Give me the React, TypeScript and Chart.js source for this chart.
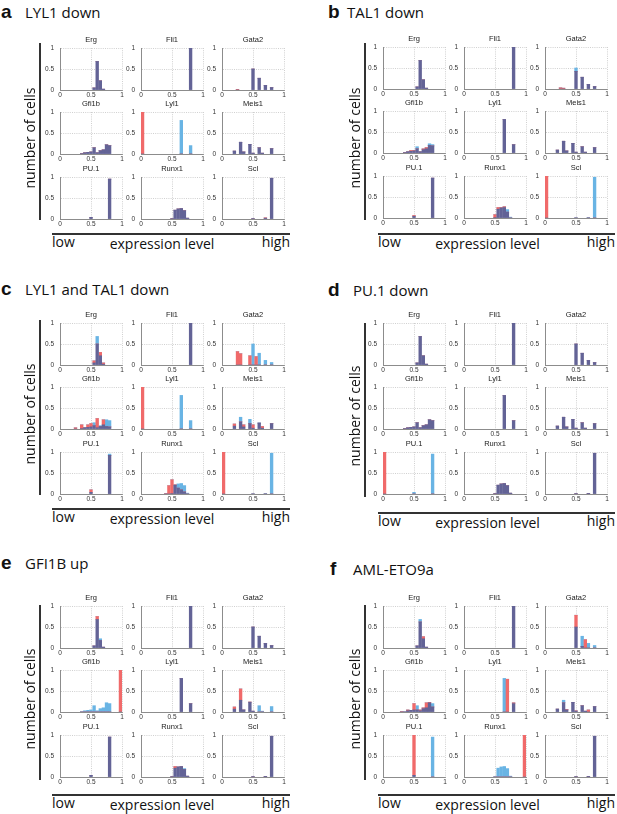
import React, { useEffect, useRef } from 'react';
import { Chart, registerables } from 'chart.js';

Chart.register(...registerables);

type Bins = [number, number][]; // [expression level, fraction of cells]

const GENES = ['Erg', 'Fli1', 'Gata2', 'Gfi1b', 'Lyl1', 'Meis1', 'PU.1', 'Runx1', 'Scl'];
const X_TICK_STEP = 0.5;
const Y_TICK_STEP = 0.5;

// ---- control distributions (blue) ----
const ctrlErg: Bins = [[0.55, 0.05], [0.6, 0.68], [0.65, 0.22], [0.7, 0.02]];
const ctrlFli1: Bins = [[0.8, 1.0]];
const ctrlGata2: Bins = [[0.5, 0.5], [0.6, 0.28], [0.7, 0.11], [0.8, 0.06]];
const ctrlGfi1b: Bins = [[0.35, 0.01], [0.4, 0.03], [0.45, 0.04], [0.5, 0.05], [0.55, 0.15], [0.6, 0.03], [0.65, 0.08], [0.7, 0.1], [0.75, 0.22], [0.8, 0.2]];
const ctrlLyl1: Bins = [[0.65, 0.8], [0.8, 0.2]];
const ctrlMeis1: Bins = [[0.2, 0.07], [0.3, 0.28], [0.35, 0.05], [0.45, 0.23], [0.5, 0.02], [0.6, 0.15], [0.65, 0.02], [0.8, 0.13]];
const ctrlPU1: Bins = [[0.5, 0.04], [0.8, 0.95]];
const ctrlRunx1: Bins = [[0.5, 0.01], [0.55, 0.21], [0.6, 0.24], [0.65, 0.25], [0.7, 0.2], [0.75, 0.02]];
const ctrlScl: Bins = [[0.5, 0.005], [0.7, 0.015], [0.8, 0.97]];

// ---- a: LYL1 down (red) ----
const aGata2: Bins = [[0.25, 0.015], [0.5, 0.5], [0.6, 0.28], [0.7, 0.11], [0.8, 0.06]];
const aLyl1: Bins = [[0.025, 1.0]];
const aScl: Bins = [[0.5, 0.005], [0.7, 0.03], [0.8, 0.97]];

// ---- b: TAL1 down ----
const bGata2: Bins = [[0.25, 0.03], [0.3, 0.02], [0.5, 0.42], [0.6, 0.28], [0.7, 0.11], [0.8, 0.06]];
const bGfi1b: Bins = [[0.35, 0.01], [0.4, 0.03], [0.45, 0.06], [0.5, 0.06], [0.55, 0.1], [0.6, 0.03], [0.65, 0.1], [0.7, 0.13], [0.75, 0.18], [0.8, 0.17]];
const bPU1: Bins = [[0.5, 0.06], [0.8, 0.95]];
const bRunx1: Bins = [[0.5, 0.08], [0.55, 0.25], [0.6, 0.25], [0.65, 0.27], [0.7, 0.14]];
const bScl: Bins = [[0.025, 1.0]];

// ---- c: LYL1 and TAL1 down ----
const cErg: Bins = [[0.55, 0.1], [0.6, 0.5], [0.65, 0.3], [0.7, 0.05]];
const cGata2: Bins = [[0.25, 0.32], [0.3, 0.27], [0.45, 0.22], [0.55, 0.2]];
const cGfi1b: Bins = [[0.25, 0.03], [0.35, 0.1], [0.4, 0.03], [0.45, 0.1], [0.5, 0.13], [0.55, 0.08], [0.6, 0.25], [0.65, 0.06], [0.7, 0.22], [0.75, 0.06], [0.8, 0.05]];
const cLyl1: Bins = [[0.025, 1.0]];
const cMeis1: Bins = [[0.2, 0.12], [0.3, 0.17], [0.35, 0.1], [0.45, 0.13], [0.5, 0.1], [0.6, 0.14], [0.65, 0.06], [0.8, 0.13]];
const cPU1: Bins = [[0.5, 0.1], [0.8, 0.92]];
const cRunx1: Bins = [[0.4, 0.01], [0.45, 0.2], [0.5, 0.34], [0.55, 0.22], [0.6, 0.14], [0.65, 0.1], [0.7, 0.05]];
const cScl: Bins = [[0.025, 1.0]];

// ---- d: PU.1 down ----
const dPU1: Bins = [[0.025, 1.0]];

// ---- e: GFI1B up ----
const eErg: Bins = [[0.55, 0.05], [0.6, 0.75], [0.65, 0.18], [0.7, 0.02]];
const eGfi1b: Bins = [[0.975, 1.0]];
const eMeis1: Bins = [[0.2, 0.12], [0.3, 0.55], [0.35, 0.05], [0.45, 0.24], [0.5, 0.02]];
const eRunx1: Bins = [[0.5, 0.01], [0.55, 0.25], [0.6, 0.24], [0.65, 0.25], [0.7, 0.18], [0.75, 0.02]];

// ---- f: AML-ETO9a ----
const fErg: Bins = [[0.55, 0.05], [0.6, 0.62], [0.65, 0.27], [0.7, 0.02]];
const fGata2: Bins = [[0.5, 0.78], [0.6, 0.04], [0.65, 0.2]];
const fGfi1b: Bins = [[0.3, 0.01], [0.4, 0.05], [0.45, 0.04], [0.5, 0.2], [0.55, 0.05], [0.6, 0.05], [0.65, 0.1], [0.7, 0.22], [0.75, 0.23], [0.8, 0.12]];
const fLyl1: Bins = [[0.7, 0.78], [0.8, 0.22]];
const fMeis1: Bins = [[0.2, 0.07], [0.3, 0.22], [0.35, 0.06], [0.45, 0.23], [0.5, 0.03], [0.6, 0.15], [0.65, 0.02], [0.7, 0.05], [0.8, 0.13]];
const fPU1: Bins = [[0.5, 1.0]];
const fRunx1: Bins = [[0.975, 1.0]];

const CONTROL: Record<string, Bins> = {
  Erg: ctrlErg, Fli1: ctrlFli1, Gata2: ctrlGata2, Gfi1b: ctrlGfi1b, Lyl1: ctrlLyl1,
  Meis1: ctrlMeis1, 'PU.1': ctrlPU1, Runx1: ctrlRunx1, Scl: ctrlScl,
};

const PANELS: { letter: string; title: string; pert: Record<string, Bins> }[] = [
  { letter: 'a', title: 'LYL1 down', pert: { Gata2: aGata2, Lyl1: aLyl1, Scl: aScl } },
  { letter: 'b', title: 'TAL1 down', pert: { Gata2: bGata2, Gfi1b: bGfi1b, 'PU.1': bPU1, Runx1: bRunx1, Scl: bScl } },
  { letter: 'c', title: 'LYL1 and TAL1 down', pert: { Erg: cErg, Gata2: cGata2, Gfi1b: cGfi1b, Lyl1: cLyl1, Meis1: cMeis1, 'PU.1': cPU1, Runx1: cRunx1, Scl: cScl } },
  { letter: 'd', title: 'PU.1 down', pert: { 'PU.1': dPU1 } },
  { letter: 'e', title: 'GFI1B up', pert: { Erg: eErg, Gfi1b: eGfi1b, Meis1: eMeis1, Runx1: eRunx1 } },
  { letter: 'f', title: 'AML-ETO9a', pert: { Erg: fErg, Gata2: fGata2, Gfi1b: fGfi1b, Lyl1: fLyl1, Meis1: fMeis1, 'PU.1': fPU1, Runx1: fRunx1 } },
];

// ---- layout (pixels) ----
const LAYOUT: Record<string, any> = {
  a: { letterX: 1, titleX: 25, titleBase: 18, gridLeft: 60, gridTop: 48, vX: 40, vTop: 43, vBot: 220, hY: 234, hX1: 52, hX2: 290 },
  b: { letterX: 328, titleX: 347, titleBase: 18, gridLeft: 383, gridTop: 47, vX: 365, vTop: 43, vBot: 220, hY: 234, hX1: 378, hX2: 615 },
  c: { letterX: 1, titleX: 25, titleBase: 295, gridLeft: 60, gridTop: 323, vX: 40, vTop: 320, vBot: 495, hY: 509, hX1: 52, hX2: 290 },
  d: { letterX: 328, titleX: 353, titleBase: 296, gridLeft: 383, gridTop: 323, vX: 365, vTop: 323, vBot: 497, hY: 513, hX1: 378, hX2: 615 },
  e: { letterX: 1, titleX: 25, titleBase: 569, gridLeft: 60, gridTop: 606, vX: 40, vTop: 605, vBot: 780, hY: 795, hX1: 52, hX2: 290 },
  f: { letterX: 330, titleX: 353, titleBase: 575, gridLeft: 383, gridTop: 606, vX: 365, vTop: 605, vBot: 780, hY: 795, hX1: 378, hX2: 615 },
};
const COL_STEP = 81;
const ROW_OFFSETS = [0, 64, 129];
const Y_AXIS_W = 20;
const PLOT_W = 62;
const PAD_R = 6;
const PAD_T = 14;
const PLOT_H = 42;
const X_AXIS_H = 10;
const CW = Y_AXIS_W + PLOT_W + PAD_R;
const CH = PAD_T + PLOT_H + X_AXIS_H;

const PURPLE = '#636396';
const RED = '#f06a6a';
const BLUE = '#69b4e4';
const GRID = '#c4c4c4';
const AXIS = '#8c8c8c';
const TICK_FONT = { family: '"Liberation Sans", Arial, sans-serif', size: 6.5 };
const tickLabel = (v: any) => String(Math.round(Number(v) * 10) / 10);

function splitBins(ctrl: Bins, pert: Bins) {
  const xs = Array.from(new Set([...ctrl.map((b) => b[0]), ...pert.map((b) => b[0])])).sort((p, q) => p - q);
  const get = (bins: Bins, x: number) => {
    const f = bins.find((b) => b[0] === x);
    return f ? f[1] : 0;
  };
  const purple: { x: number; y: number }[] = [];
  const red: { x: number; y: number }[] = [];
  const blue: { x: number; y: number }[] = [];
  xs.forEach((x) => {
    const c = get(ctrl, x);
    const p = get(pert, x);
    const m = Math.min(c, p);
    purple.push({ x, y: m });
    red.push({ x, y: p - m });
    blue.push({ x, y: c - m });
  });
  return { purple, red, blue };
}

function Subplot({ left, top, gene, ctrl, pert }: { left: number; top: number; gene: string; ctrl: Bins; pert: Bins }) {
  const ref = useRef<HTMLCanvasElement>(null);
  useEffect(() => {
    const { purple, red, blue } = splitBins(ctrl, pert);
    const titlePlugin = {
      id: 'geneTitle',
      afterDraw(chart: any) {
        const { ctx, chartArea } = chart;
        ctx.save();
        ctx.font = '7.5px "Liberation Sans", Arial, sans-serif';
        ctx.fillStyle = '#222';
        ctx.textAlign = 'center';
        ctx.textBaseline = 'middle';
        ctx.fillText(gene, (chartArea.left + chartArea.right) / 2, chartArea.top - 8.3);
        ctx.restore();
      },
    };
    const chart = new Chart(ref.current as HTMLCanvasElement, {
      type: 'bar',
      data: {
        datasets: [
          { data: purple, backgroundColor: PURPLE },
          { data: red, backgroundColor: RED },
          { data: blue, backgroundColor: BLUE },
        ] as any,
      },
      options: {
        animation: false,
        responsive: false,
        maintainAspectRatio: false,
        events: [],
        layout: { padding: { left: 0, right: PAD_R, top: PAD_T, bottom: 0 } },
        datasets: { bar: { barThickness: 2.7, grouped: false, borderWidth: 0 } } as any,
        plugins: { legend: { display: false }, tooltip: { enabled: false }, title: { display: false } },
        scales: {
          x: {
            type: 'linear',
            position: 'bottom',
            min: 0,
            max: 1,
            offset: false,
            stacked: true,
            grid: { offset: false, color: GRID, lineWidth: 0.8, drawTicks: false },
            border: { color: AXIS, width: 1, dash: [1, 1.2] },
            ticks: { stepSize: X_TICK_STEP, padding: 1.5, font: TICK_FONT, color: '#333', autoSkip: false, maxRotation: 0, callback: tickLabel },
            afterFit: (s: any) => {
              s.height = X_AXIS_H;
            },
          },
          y: {
            type: 'linear',
            position: 'left',
            min: 0,
            max: 1,
            stacked: true,
            grid: { color: GRID, lineWidth: 0.8, drawTicks: false },
            border: { color: AXIS, width: 1, dash: [1, 1.2] },
            ticks: { display: true, stepSize: Y_TICK_STEP, padding: 6, font: TICK_FONT, color: '#333', autoSkip: false, callback: tickLabel },
            afterFit: (s: any) => {
              s.width = Y_AXIS_W;
            },
          },
        } as any,
      },
      plugins: [titlePlugin],
    } as any);
    return () => chart.destroy();
  }, []);
  return (
    <canvas
      ref={ref}
      width={CW}
      height={CH}
      style={{ position: 'absolute', left, top, width: CW, height: CH }}
    />
  );
}

const SANS = '"Open Sans", "Liberation Sans", sans-serif';

function BaseText({ x, base, size, family, weight, align, children, asc }: any) {
  const w = 300;
  const left = align === 'right' ? x - w : align === 'center' ? x - w / 2 : x;
  return (
    <div
      style={{
        position: 'absolute',
        left,
        top: base - asc * size,
        width: w,
        textAlign: align || 'left',
        fontSize: size,
        lineHeight: `${size}px`,
        fontFamily: family,
        fontWeight: weight || 'normal',
        color: '#111',
        whiteSpace: 'nowrap',
        pointerEvents: 'none',
      }}
    >
      {children}
    </div>
  );
}

function Panel({ idx }: { idx: number }) {
  const p = PANELS[idx];
  const L = LAYOUT[p.letter];
  const cy = (L.vTop + L.vBot) / 2 + 6;
  return (
    <>
      <BaseText x={L.letterX} base={L.titleBase} size={19} family='"Liberation Sans", Arial, sans-serif' weight="bold" asc={0.8465}>
        {p.letter}
      </BaseText>
      <BaseText x={L.titleX} base={L.titleBase} size={15} family={SANS} asc={0.888}>
        {p.title}
      </BaseText>
      {GENES.map((g, i) => {
        const col = i % 3;
        const row = Math.floor(i / 3);
        const pl = L.gridLeft + col * COL_STEP;
        const pt = L.gridTop + ROW_OFFSETS[row];
        return (
          <Subplot
            key={g}
            left={pl - Y_AXIS_W}
            top={pt - PAD_T}
            gene={g}
            ctrl={CONTROL[g]}
            pert={p.pert[g] || CONTROL[g]}
          />
        );
      })}
      <div style={{ position: 'absolute', left: L.vX - 0.75, top: L.vTop, width: 1.5, height: L.vBot - L.vTop, background: '#333' }} />
      <div style={{ position: 'absolute', left: L.hX1, top: L.hY - 0.75, width: L.hX2 - L.hX1, height: 1.5, background: '#333' }} />
      <div
        style={{
          position: 'absolute',
          left: L.vX - 10 - 80,
          top: cy - 7,
          width: 160,
          height: 14,
          lineHeight: '14px',
          fontSize: 14,
          fontFamily: SANS,
          textAlign: 'center',
          color: '#111',
          whiteSpace: 'nowrap',
          transform: 'rotate(-90deg)',
        }}
      >
        number of cells
      </div>
      <BaseText x={L.hX1} base={L.hY + 13} size={14} family={SANS} asc={0.888}>
        low
      </BaseText>
      <BaseText x={L.hX2} base={L.hY + 13.5} size={14} family={SANS} asc={0.888} align="right">
        high
      </BaseText>
      <BaseText x={(L.hX1 + L.hX2) / 2 - 9} base={L.hY + 15} size={14} family={SANS} asc={0.888} align="center">
        expression level
      </BaseText>
    </>
  );
}

export default function App() {
  return (
    <div style={{ position: 'absolute', left: 0, top: 0, width: 617, height: 814, overflow: 'hidden', background: '#fff' }}>
      {PANELS.map((p, i) => (
        <Panel key={p.letter} idx={i} />
      ))}
    </div>
  );
}
